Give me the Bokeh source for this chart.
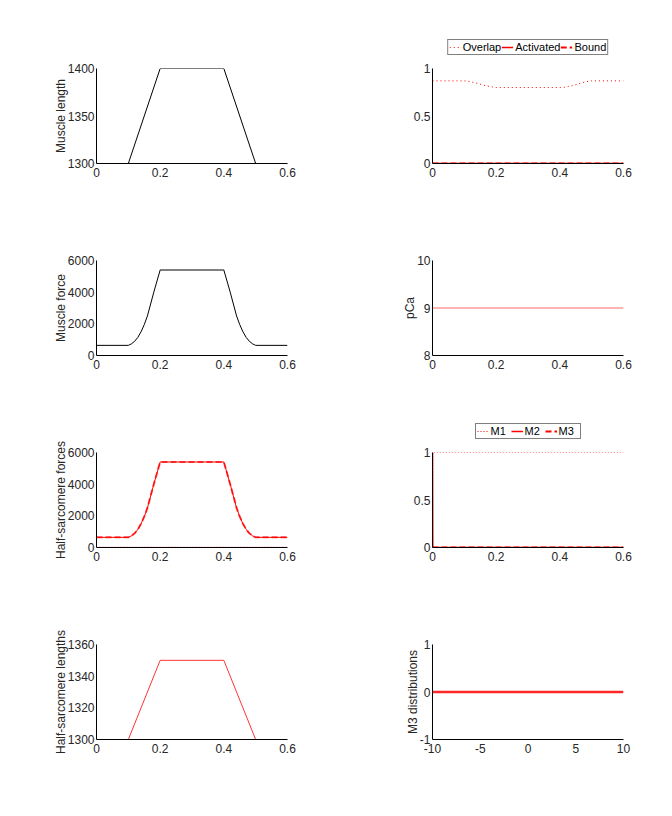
from bokeh.plotting import figure
from bokeh.layouts import column, row
from bokeh.models import Range1d, FixedTicker, CustomJSTickFormatter, Legend, LegendItem
from bokeh.embed import file_html
from bokeh.resources import INLINE

# ---- data ----
t_len = [0.0, 0.1, 0.2, 0.4, 0.5, 0.6]
muscle_length = [1300, 1300, 1400, 1400, 1300, 1300]
hs_length = [1300, 1300, 1350, 1350, 1300, 1300]

t_force = [0.0, 0.10, 0.11, 0.12, 0.13, 0.14, 0.15, 0.16, 0.17, 0.18, 0.19, 0.20,
           0.40, 0.41, 0.42, 0.43, 0.44, 0.45, 0.46, 0.47, 0.48, 0.49, 0.50, 0.6]
muscle_force = [640, 640, 740, 900, 1150, 1500, 1950, 2500, 3250, 4000, 4700, 5400,
                5400, 4700, 4000, 3250, 2500, 1950, 1500, 1150, 900, 740, 640, 640]
hs_force_zero = [0, 0]
t_edges = [0.0, 0.6]

t_overlap = [0.0, 0.10, 0.12, 0.14, 0.16, 0.18, 0.20, 0.40, 0.42, 0.44, 0.46, 0.48, 0.50, 0.6]
overlap = [0.87, 0.87, 0.86, 0.845, 0.825, 0.81, 0.80, 0.80, 0.805, 0.82, 0.84, 0.86, 0.87, 0.87]
activated = [0, 0]
bound = [0, 0]

pCa = [9, 9]

t_m = [0.0, 0.001, 0.6]
m1 = [0, 1, 1]
m2 = [1, 0, 0]
m3 = [0, 0, 0]

m3_x = [-10, 10]
m3_dist = [0, 0]

FONT = "Liberation Sans"
TXT = "#262626"
RED = "#ff0000"

OV_STYLE = dict(color=RED, line_width=1, line_dash="1 3")
ACT_STYLE = dict(color=RED, line_width=1.5)
BND_STYLE = dict(color=RED, line_width=2, line_dash="6 3")
M1_STYLE = dict(color=RED, line_width=1, line_dash="1 2")
M2_STYLE = dict(color=RED, line_width=1.5)
M3_STYLE = dict(color=RED, line_width=2, line_dash="6 3")


def make_fig(xr, yr, xticks, yticks, ylabel=None, top=68):
    p = figure(width=336, height=top + 95 + 29, frame_width=191, frame_height=95,
               output_backend="svg", toolbar_location=None,
               x_range=Range1d(*xr), y_range=Range1d(*yr),
               min_border_left=96, min_border_right=49, min_border_top=top, min_border_bottom=29)
    p.grid.visible = False
    p.outline_line_color = None
    p.background_fill_color = "white"
    p.border_fill_color = "white"
    fmt = CustomJSTickFormatter(code="return String(tick)")
    for ax, ticks in ((p.xaxis[0], xticks), (p.yaxis[0], yticks)):
        ax.ticker = FixedTicker(ticks=ticks)
        ax.formatter = fmt
        ax.major_tick_in = 0
        ax.major_tick_out = 0
        ax.minor_tick_in = 0
        ax.minor_tick_out = 0
        ax.axis_line_color = "black"
        ax.axis_line_width = 1
        ax.major_label_text_font = FONT
        ax.major_label_text_font_size = "12px"
        ax.major_label_text_color = TXT
        ax.axis_label_text_font = FONT
        ax.axis_label_text_font_size = "12px"
        ax.axis_label_text_font_style = "normal"
        ax.axis_label_text_color = TXT
    p.xaxis[0].major_label_standoff = 4
    p.yaxis[0].major_label_standoff = 2
    p.yaxis[0].axis_label_standoff = -3
    if ylabel:
        p.yaxis[0].axis_label = ylabel
    return p


def legend_fig(entries, h=60):
    # legend-only strip above a panel; the series sit outside its (hidden) y range
    lf = figure(width=336, height=h, frame_width=191, frame_height=h,
                output_backend="svg", toolbar_location=None,
                x_range=Range1d(0, 0.6), y_range=Range1d(5, 6),
                x_axis_location=None, y_axis_location=None,
                min_border_left=96, min_border_right=49, min_border_top=0, min_border_bottom=0)
    lf.grid.visible = False
    lf.outline_line_color = None
    lf.border_fill_color = "white"
    items = []
    for label, xs, ys, style in entries:
        r = lf.line(xs, ys, **style)
        items.append(LegendItem(label=label, renderers=[r]))
    lg = Legend(items=items, orientation="horizontal", location="bottom_center")
    lg.label_text_font = FONT
    lg.label_text_font_size = "11px"
    lg.label_text_color = "black"
    lg.border_line_color = "black"
    lg.border_line_width = 1
    lg.padding = 1
    lg.spacing = 0
    lg.glyph_width = 12
    lg.glyph_height = 10
    lg.label_standoff = 2
    lg.label_height = 11
    lg.margin = 5
    lg.background_fill_alpha = 1
    lf.add_layout(lg, "center")
    return lf


T = [0, 0.2, 0.4, 0.6]

# Row 1
p1 = make_fig((0, 0.6), (1300, 1400), T, [1300, 1350, 1400], "Muscle length")
p1.line(t_len, muscle_length, color="black", line_width=1)

l2 = legend_fig([("Overlap", t_overlap, overlap, OV_STYLE),
                 ("Activated", t_edges, activated, ACT_STYLE),
                 ("Bound", t_edges, bound, BND_STYLE)])
p2 = make_fig((0, 0.6), (0, 1), T, [0, 0.5, 1], top=8)
p2.line(t_overlap, overlap, **OV_STYLE)
p2.line(t_edges, activated, **ACT_STYLE)
p2.line(t_edges, bound, **BND_STYLE)

# Row 2
p3 = make_fig((0, 0.6), (0, 6000), T, [0, 2000, 4000, 6000], "Muscle force")
p3.line(t_force, muscle_force, color="black", line_width=1)

p4 = make_fig((0, 0.6), (8, 10), T, [8, 9, 10], "pCa")
p4.line(t_edges, pCa, color=RED, line_width=1, alpha=0.6)

# Row 3
p5 = make_fig((0, 0.6), (0, 6000), T, [0, 2000, 4000, 6000], "Half-sarcomere forces")
p5.line(t_edges, hs_force_zero, color=RED, line_width=1.5, line_dash="1 2")
p5.line(t_force, muscle_force, color=RED, line_width=1)
p5.line(t_force, muscle_force, color=RED, line_width=2, line_dash="6 3", alpha=0.7)

l6 = legend_fig([("M1", t_m, m1, M1_STYLE),
                 ("M2", t_m, m2, M2_STYLE),
                 ("M3", t_m, m3, M3_STYLE)])
p6 = make_fig((0, 0.6), (0, 1), T, [0, 0.5, 1], top=8)
p6.line(t_m, m1, **M1_STYLE)
p6.line(t_m, m2, **M2_STYLE)
p6.line(t_m, m3, **M3_STYLE)

# Row 4
p7 = make_fig((0, 0.6), (1300, 1360), T, [1300, 1320, 1340, 1360], "Half-sarcomere lengths")
p7.line(t_len, hs_length, color=RED, line_width=1, alpha=0.8)

p8 = make_fig((-10, 10), (-1, 1), [-10, -5, 0, 5, 10], [-1, 0, 1], "M3 distributions")
p8.line(m3_x, m3_dist, color=RED, line_width=2.5, alpha=0.85)

layout = column(row(p1, column(l2, p2, spacing=0), spacing=0),
                row(p3, p4, spacing=0),
                row(p5, column(l6, p6, spacing=0), spacing=0),
                row(p7, p8, spacing=0), spacing=0)

open("out.html", "w").write(file_html(layout, INLINE))
